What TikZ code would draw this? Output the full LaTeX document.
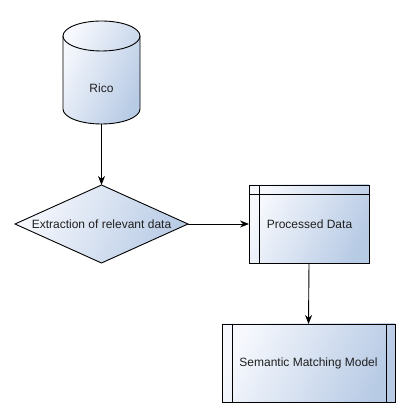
\documentclass[tikz,border=0pt]{standalone}
\usepackage{fontspec}
\setmainfont{Liberation Sans}
\usetikzlibrary{shapes.geometric,arrows.meta,calc}
\definecolor{cLight}{RGB}{246,248,253}
\definecolor{cDark}{RGB}{184,203,229}
\tikzset{
  x=1pt,y=1pt,
  grad/.style={left color=cLight,right color=cDark,shading angle=65},
  linkarrow/.style={draw=black,line width=0.9pt,-{Stealth[length=9pt,width=7pt]}},
  boxnode/.style={draw=black,line width=0.9pt,rectangle,inner sep=0pt,outer sep=0pt,grad},
  txt/.style={font=\fontsize{12}{14}\selectfont,text=black!88,inner sep=0pt}
}
\begin{document}
\begin{tikzpicture}
\useasboundingbox (0,0) rectangle (411,417);
\fill[white] (0,0) rectangle (411,417);
% cylinder
\shade[grad,draw=black,line width=0.9pt] (63,381) -- (63,308) arc[start angle=180,end angle=360,x radius=38.5,y radius=15] -- (140,381) arc[start angle=0,end angle=180,x radius=38.5,y radius=15] -- cycle;
\draw[line width=0.9pt] (63,381) arc[start angle=180,end angle=360,x radius=38.5,y radius=15];
\node[txt] (rico) at (101.5,329) {Rico};
\coordinate (ricobot) at (101.5,293);
% diamond
\node[diamond,draw=black,line width=0.9pt,inner sep=0pt,outer sep=0pt,minimum width=173pt,minimum height=78pt,grad] (dia) at (101.5,193) {};
\node[txt] (diatext) at (dia.center) {Extraction of relevant data};
% processed data
\node[boxnode,minimum width=120pt,minimum height=78pt] (proc) at (309,193) {};
\draw[line width=0.9pt] ($(proc.north west)+(10,0)$) -- ($(proc.south west)+(10,0)$);
\draw[line width=0.9pt] ($(proc.north west)+(0,-9)$) -- ($(proc.north east)+(0,-9)$);
\node[txt] (proctext) at (309.5,193) {Processed Data};
% semantic matching model
\node[boxnode,minimum width=173pt,minimum height=78pt] (sem) at (308.5,54) {};
\draw[line width=0.9pt] ($(sem.north west)+(10,0)$) -- ($(sem.south west)+(10,0)$);
\draw[line width=0.9pt] ($(sem.north east)+(-9,0)$) -- ($(sem.south east)+(-9,0)$);
\node[txt] (semtext) at (sem.center) {Semantic Matching Model};
% connectors
\draw[linkarrow] (ricobot) -- (dia.north);
\draw[linkarrow] (dia.east) -- (proc.west);
\draw[linkarrow] (proc.south) -- (sem.north);
\end{tikzpicture}
\end{document}
